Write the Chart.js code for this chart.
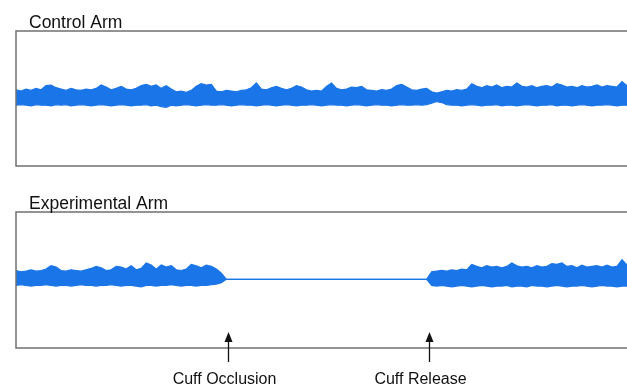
<!DOCTYPE html>
<html>
<head>
<meta charset="utf-8">
<script src="https://cdn.jsdelivr.net/npm/chart.js@4.4.1/dist/chart.umd.min.js"></script>
<style>
html,body{margin:0;padding:0;background:#fff;}
#wrap{position:relative;width:627px;height:385px;overflow:hidden;}
canvas{position:absolute;left:0;}
#c1{top:0;}
#c2{top:185px;}
</style>
</head>
<body>
<div id="wrap">
<canvas id="c1" width="627" height="185"></canvas>
<canvas id="c2" width="627" height="200"></canvas>
</div>
<script>
const panelTitles = ['Control Arm', 'Experimental Arm'];

const controlUpper = [
 1.3,1.1,1.4,1.2,1.5,1.3,1.9,2.0,1.6,1.4,1.2,1.5,1.3,1.2,1.4,1.3,1.5,2.0,1.7,1.3,
 1.5,1.8,1.4,1.3,1.5,1.9,2.1,1.8,2.0,1.5,1.9,1.4,1.0,1.1,0.9,1.2,1.8,2.2,2.0,2.1,
 1.1,1.0,1.2,1.1,1.0,1.2,1.3,1.6,2.3,1.4,1.3,1.6,1.8,1.5,1.3,1.5,1.9,1.7,1.3,1.1,
 1.2,1.1,1.8,2.3,1.5,1.3,1.4,1.7,1.6,1.8,1.3,1.2,1.1,1.3,1.2,1.4,1.9,2.1,1.7,1.3,
 1.2,1.4,1.5,1.0,0.8,1.0,1.2,1.1,1.3,1.2,1.4,2.2,1.8,1.6,1.9,1.7,2.0,1.6,1.8,1.7,
 2.3,1.8,1.7,1.9,1.6,1.8,1.9,1.7,2.2,2.0,1.7,1.8,1.6,1.9,1.7,1.8,2.0,1.7,1.9,1.8,
 1.7,2.5,1.9
];
const controlLower = [
 -1.0,-0.9,-1.0,-1.1,-0.9,-1.0,-1.0,-1.1,-0.9,-1.0,-0.9,-1.1,-1.0,-0.9,-1.0,-1.1,-1.0,-0.9,-1.0,-1.1,
 -1.0,-0.9,-1.0,-1.1,-1.0,-1.0,-0.9,-1.1,-1.0,-1.2,-1.3,-1.0,-1.1,-1.0,-0.9,-1.0,-1.1,-1.0,-0.9,-1.0,
 -1.0,-0.9,-1.0,-1.1,-1.0,-0.9,-1.0,-1.0,-1.1,-1.0,-0.9,-1.0,-1.1,-1.0,-0.9,-1.0,-1.1,-1.0,-1.0,-0.9,
 -1.0,-1.1,-1.0,-0.9,-1.0,-1.0,-1.1,-1.0,-0.9,-1.0,-1.1,-1.0,-0.9,-1.0,-1.0,-1.1,-1.0,-0.9,-1.0,-1.0,
 -0.9,-1.0,-0.9,-0.7,-0.45,-0.6,-0.9,-1.0,-1.0,-1.1,-1.0,-0.9,-1.0,-1.1,-1.0,-1.0,-0.9,-1.1,-1.0,-1.0,
 -1.1,-1.0,-0.9,-1.0,-1.1,-1.0,-1.0,-0.9,-1.1,-1.0,-1.0,-1.1,-1.0,-0.9,-1.0,-1.1,-1.0,-1.0,-0.9,-1.0,
 -1.1,-1.0,-1.0
];
const experimentalUpper = [
 1.4,1.2,1.3,1.5,1.3,1.4,1.6,2.1,1.9,1.4,1.3,1.5,1.4,1.3,1.5,1.7,2.0,1.8,1.4,1.5,
 2.0,1.9,1.6,2.1,1.5,1.7,2.5,2.2,1.6,2.2,1.9,2.1,1.5,1.4,1.6,2.3,2.1,1.8,2.2,2.0,
 1.6,1.0,
 0.1,0.1,0.1,0.1,0.1,0.1,0.1,0.1,0.1,0.1,0.1,0.1,0.1,0.1,0.1,0.1,0.1,0.1,0.1,0.1,
 0.1,0.1,0.1,0.1,0.1,0.1,0.1,0.1,0.1,0.1,0.1,0.1,0.1,0.1,0.1,0.1,0.1,0.1,0.1,0.1,0.1,
 1.2,1.3,1.4,1.3,1.5,1.4,1.6,1.5,2.3,2.0,1.8,2.1,1.9,2.0,1.8,2.0,2.5,2.1,1.9,2.0,
 1.8,2.1,1.9,2.0,2.4,2.3,2.5,2.0,2.1,1.8,2.2,1.9,2.0,2.1,1.9,2.2,1.9,2.0,3.0,2.2
];
const experimentalLower = [
 -0.8,-0.7,-0.8,-0.9,-0.8,-0.8,-0.7,-0.8,-0.9,-0.8,-0.8,-0.9,-0.8,-0.7,-0.8,-0.8,-0.9,-0.8,-0.8,-0.7,
 -0.8,-0.9,-0.8,-0.8,-0.9,-1.0,-0.8,-0.8,-0.9,-0.8,-0.8,-0.7,-0.8,-0.9,-0.8,-0.8,-0.9,-0.8,-0.8,-0.7,
 -0.6,-0.4,
 0.1,0.1,0.1,0.1,0.1,0.1,0.1,0.1,0.1,0.1,0.1,0.1,0.1,0.1,0.1,0.1,0.1,0.1,0.1,0.1,
 0.1,0.1,0.1,0.1,0.1,0.1,0.1,0.1,0.1,0.1,0.1,0.1,0.1,0.1,0.1,0.1,0.1,0.1,0.1,0.1,0.1,
 -0.8,-0.9,-0.8,-0.9,-1.0,-0.9,-0.8,-0.9,-1.0,-0.9,-0.8,-0.9,-1.0,-0.9,-0.9,-0.8,-1.0,-0.9,-0.9,-1.0,
 -0.8,-0.9,-0.9,-1.0,-0.9,-0.8,-0.9,-1.0,-0.9,-0.9,-0.8,-0.9,-1.0,-0.9,-0.8,-0.9,-0.9,-1.0,-0.9,-0.9
];
const eventTimes = [42.4, 82.4];
const eventLabels = ['Cuff Occlusion', 'Cuff Release'];

// ---- styling ----
const BLUE = '#1a75e8';
const FRAME = '#707070';
const FONT = "'Liberation Sans', Arial, Helvetica, sans-serif";
const LABEL_SHIFT = [-4, -9];

function toPoints(arr){ return arr.map((v,i)=>({x:i, y:v})); }

const framePlugin = {
  id: 'frame',
  afterDraw(chart, args, opts){
    const {ctx, chartArea:a} = chart;
    ctx.save();
    ctx.strokeStyle = FRAME;
    ctx.lineWidth = 1.5;
    ctx.beginPath();
    ctx.moveTo(chart.width + 2, a.top);
    ctx.lineTo(a.left, a.top);
    ctx.lineTo(a.left, a.bottom);
    ctx.lineTo(chart.width + 2, a.bottom);
    ctx.stroke();
    ctx.fillStyle = '#111';
    ctx.font = '17.5px ' + FONT;
    ctx.textAlign = 'left';
    ctx.textBaseline = 'alphabetic';
    ctx.fillText(opts.title, a.left + 13, a.top - 3);
    if (opts.events) {
      const xs = chart.scales.x;
      opts.events.times.forEach((t, k) => {
        const px = Math.round(xs.getPixelForValue(t)) + 0.5;
        const tip = a.bottom - 16;
        ctx.strokeStyle = '#111';
        ctx.lineWidth = 1.3;
        ctx.beginPath();
        ctx.moveTo(px, tip + 8);
        ctx.lineTo(px, tip + 30);
        ctx.stroke();
        ctx.fillStyle = '#111';
        ctx.beginPath();
        ctx.moveTo(px, tip);
        ctx.lineTo(px - 4, tip + 10);
        ctx.lineTo(px + 4, tip + 10);
        ctx.closePath();
        ctx.fill();
        ctx.font = '16px ' + FONT;
        ctx.textAlign = 'center';
        ctx.fillText(opts.events.labels[k], px + LABEL_SHIFT[k], a.bottom + 36);
      });
    }
    ctx.restore();
  }
};

function makeChart(id, upper, lower, title, pad, events){
  return new Chart(document.getElementById(id), {
    type: 'line',
    data: {
      datasets: [
        {data: toPoints(upper), borderColor: BLUE, backgroundColor: BLUE, borderWidth: 1.2,
         pointRadius: 0, tension: 0, fill: '+1'},
        {data: toPoints(lower), borderColor: BLUE, backgroundColor: BLUE, borderWidth: 1.2,
         pointRadius: 0, tension: 0, fill: false}
      ]
    },
    options: {
      responsive: false,
      devicePixelRatio: 1,
      animation: false,
      layout: {padding: pad},
      scales: {
        x: {type: 'linear', min: 0, max: 122, display: false},
        y: {type: 'linear', min: -10, max: 10, display: false}
      },
      plugins: {
        legend: {display: false},
        tooltip: {enabled: false},
        frame: {title: title, events: events}
      }
    },
    plugins: [framePlugin]
  });
}

makeChart('c1', controlUpper, controlLower, panelTitles[0],
  {left: 16, top: 31, right: 0, bottom: 19}, null);
makeChart('c2', experimentalUpper, experimentalLower, panelTitles[1],
  {left: 16, top: 27, right: 0, bottom: 37}, {times: eventTimes, labels: eventLabels});
</script>
</body>
</html>
